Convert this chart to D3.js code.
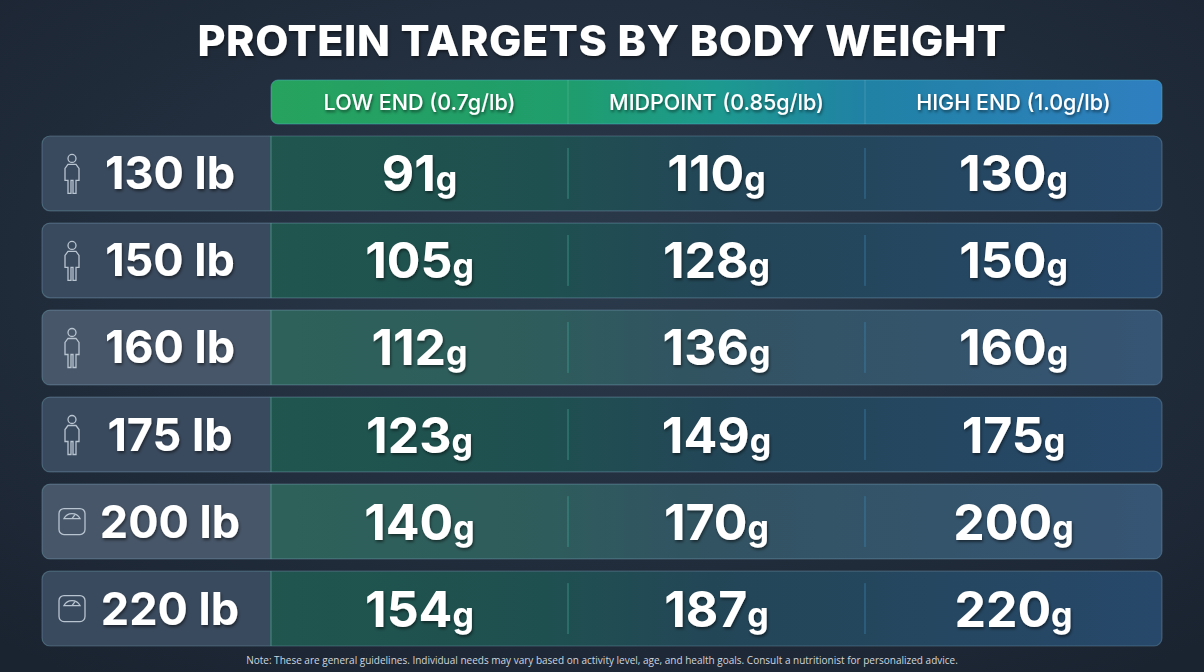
<!DOCTYPE html>
<html><head><meta charset="utf-8">
<script src="https://cdn.jsdelivr.net/npm/d3@7"></script>
<style>body{margin:0;background:#1f2a38;}svg{display:block}</style>
</head><body>
<script>
const weights = ["130 lb","150 lb","160 lb","175 lb","200 lb","220 lb"];
const columns = ["LOW END (0.7g/lb)","MIDPOINT (0.85g/lb)","HIGH END (1.0g/lb)"];
const lowEnd = [91,105,112,123,140,154];
const midpoint = [110,128,136,149,170,187];
const highEnd = [130,150,160,175,200,220];
const iconType = ["person","person","person","person","scale","scale"];
const title = "PROTEIN TARGETS BY BODY WEIGHT";
const note = "Note: These are general guidelines. Individual needs may vary based on activity level, age, and health goals. Consult a nutritionist for personalized advice.";

const W=1204,H=672;
const svg=d3.select("body").append("svg").attr("width",W).attr("height",H);
const defs=svg.append("defs");
const bg=defs.append("radialGradient").attr("id","bg").attr("cx","50%").attr("cy","40%").attr("r","75%");
bg.append("stop").attr("offset","0").attr("stop-color","#2b3a4c");
bg.append("stop").attr("offset","1").attr("stop-color","#1a2330");
svg.append("rect").attr("width",W).attr("height",H).attr("fill","url(#bg)");
const hg=defs.append("linearGradient").attr("id","hg");
[["0","#27a35e"],["0.33","#1f9d6c"],["0.5","#1d9a8f"],["0.66","#2082a4"],["1","#2f7fc0"]].forEach(s=>hg.append("stop").attr("offset",s[0]).attr("stop-color",s[1]));
const rg=defs.append("linearGradient").attr("id","rg");
[["0","#1f5a4c"],["0.45","#1f5050"],["0.6","#234657"],["1","#27486a"]].forEach(s=>rg.append("stop").attr("offset",s[0]).attr("stop-color",s[1]));
const f=defs.append("filter").attr("id","sh").attr("x","-10%").attr("y","-20%").attr("width","120%").attr("height","150%");
f.append("feDropShadow").attr("dx",1).attr("dy",2).attr("stdDeviation",1.5).attr("flood-color","#000").attr("flood-opacity",0.5);

svg.append("text").attr("x",W/2).attr("y",56).attr("text-anchor","middle").attr("fill","#fff")
 .attr("font-family","Inter, 'Open Sans', sans-serif").attr("font-weight",800).attr("font-size",43).attr("letter-spacing",0.6)
 .attr("filter","url(#sh)").text(title);

const x=d3.scaleBand().domain(columns).range([271,1162]);
const y=d3.scaleBand().domain(weights).range([136,646]).paddingInner(0.14).paddingOuter(0);
svg.append("rect").attr("x",271).attr("y",80).attr("width",891).attr("height",44).attr("rx",7).attr("fill","url(#hg)").attr("stroke","#4fb1c9").attr("stroke-opacity",0.5);
columns.forEach((c,i)=>{
  if(i>0) svg.append("line").attr("x1",x(c)).attr("x2",x(c)).attr("y1",80).attr("y2",124).attr("stroke","#ffffff").attr("stroke-opacity",0.15);
  svg.append("text").attr("x",x(c)+x.bandwidth()/2).attr("y",110).attr("text-anchor","middle").attr("fill","#fff")
   .attr("font-family","Inter, sans-serif").attr("font-weight",500).attr("font-size",21.5).attr("filter","url(#sh)").text(c);
});
const vals=[lowEnd,midpoint,highEnd];
weights.forEach((w,r)=>{
  const y0=y(w),h=y.bandwidth();
  const g=svg.append("g");
  g.append("rect").attr("x",42).attr("y",y0).attr("width",1120).attr("height",h).attr("rx",8).attr("fill","url(#rg)");
  g.append("path").attr("d",`M50,${y0}H271V${y0+h}H50a8,8 0 0 1 -8,-8V${y0+8}a8,8 0 0 1 8,-8Z`).attr("fill","#3a4a5e");
  if(r%2===0 && r>0) g.append("rect").attr("x",42).attr("y",y0).attr("width",1120).attr("height",h).attr("rx",8).attr("fill","#ffffff").attr("opacity",0.07);
  g.append("rect").attr("x",42).attr("y",y0).attr("width",1120).attr("height",h).attr("rx",8).attr("fill","none").attr("stroke","#7fa6c0").attr("stroke-opacity",0.35).attr("stroke-width",1.2);
  g.append("line").attr("x1",271).attr("x2",271).attr("y1",y0).attr("y2",y0+h).attr("stroke","#48c19a").attr("stroke-opacity",0.6);
  [1,2].forEach(i=>g.append("line").attr("x1",x(columns[i])).attr("x2",x(columns[i])).attr("y1",y0+12).attr("y2",y0+h-12).attr("stroke",i==1?"#3fb8a0":"#3d8fc0").attr("stroke-opacity",0.6));
  const cx=72,cy=y0+h/2;
  const ic=g.append("g").attr("fill","none").attr("stroke","#b8c4d0").attr("stroke-width",1.3);
  if(iconType[r]==="person"){
    ic.append("circle").attr("cx",cx).attr("cy",cy-15).attr("r",4);
    ic.append("path").attr("d",`M${cx-4},${cy-9}h8l3,4v12h-3v13h-3v-13h-2v13h-3v-13h-3v-12z`);
  } else {
    ic.append("rect").attr("x",cx-13).attr("y",cy-13).attr("width",26).attr("height",26).attr("rx",5);
    ic.append("path").attr("d",`M${cx-8},${cy-3}a9,9 0 0 1 16,0z`);
    ic.append("line").attr("x1",cx).attr("y1",cy-3).attr("x2",cx+3).attr("y2",cy-7);
  }
  g.append("text").attr("x",170).attr("y",y0+h/2+16).attr("text-anchor","middle").attr("fill","#fff")
   .attr("font-family","Inter, sans-serif").attr("font-weight",700).attr("font-size",45).attr("filter","url(#sh)").text(w);
  columns.forEach((c,i)=>{
    const t=g.append("text").attr("x",x(c)+x.bandwidth()/2).attr("y",y0+h/2+18).attr("text-anchor","middle").attr("fill","#fff")
      .attr("font-family","Inter, sans-serif").attr("font-weight",700).attr("filter","url(#sh)");
    t.append("tspan").attr("font-size",50).text(vals[i][r]);
    t.append("tspan").attr("font-size",34).text("g");
  });
});
svg.append("text").attr("x",W/2).attr("y",664).attr("text-anchor","middle").attr("fill","#d0d6de")
 .attr("font-family","'Open Sans', sans-serif").attr("font-size",10).text(note);
</script>
</body></html>
